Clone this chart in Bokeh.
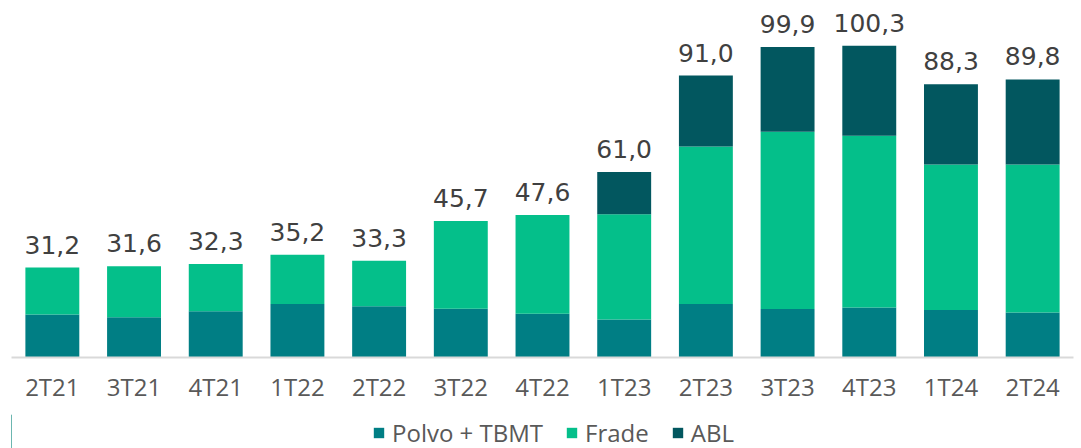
from bokeh.plotting import figure
from bokeh.layouts import column
from bokeh.models import ColumnDataSource, Range1d, FactorRange, Legend, LegendItem
from bokeh.core.properties import value
from bokeh.embed import file_html
from bokeh.resources import INLINE

categories = ["2T21", "3T21", "4T21", "1T22", "2T22", "3T22", "4T22",
              "1T23", "2T23", "3T23", "4T23", "1T24", "2T24"]
polvo_tbmt = [16.6, 15.7, 17.6, 19.9, 19.2, 18.4, 16.8, 15.0, 19.9, 18.3, 18.8, 18.0, 17.2]
frade = [14.6, 15.9, 14.7, 15.3, 14.1, 27.3, 30.8, 32.8, 49.0, 55.2, 53.5, 45.3, 46.1]
abl = [0.0, 0.0, 0.0, 0.0, 0.0, 0.0, 0.0, 13.2, 22.1, 26.4, 28.0, 25.0, 26.5]
total_labels = ["31,2", "31,6", "32,3", "35,2", "33,3", "45,7", "47,6",
                "61,0", "91,0", "99,9", "100,3", "88,3", "89,8"]

series_names = ["Polvo + TBMT", "Frade", "ABL"]
colors = ["#007E84", "#04BF8A", "#02575F"]

totals = [a + b + c for a, b, c in zip(polvo_tbmt, frade, abl)]
src = ColumnDataSource(dict(cat=categories, polvo=polvo_tbmt, frade=frade, abl=abl,
                            total=totals, lbl=total_labels))

FONT = "Open Sans"

p = figure(x_range=FactorRange(*categories), y_range=Range1d(3.2, 111.9),
           width=1081, height=414, output_backend="svg", toolbar_location=None,
           min_border_left=11, min_border_right=8, min_border_top=8, min_border_bottom=57)

rs = p.vbar_stack(["polvo", "frade", "abl"], x="cat", width=0.66, color=colors,
                  line_color=None, source=src)

p.text(x="cat", y="total", text="lbl", source=src, text_align="center",
       text_baseline="bottom", y_offset=-14, text_font=value("DejaVu Sans"),
       text_font_size="25px", text_color="#404040")

p.xgrid.visible = False
p.ygrid.visible = False
p.yaxis.visible = False
p.outline_line_color = None

ax = p.xaxis[0]
ax.axis_line_color = "#d9d9d9"
ax.axis_line_width = 2
ax.major_tick_line_color = None
ax.minor_tick_line_color = None
ax.major_label_text_font = FONT
ax.major_label_text_font_size = "24px"
ax.major_label_text_color = "#595959"
ax.major_label_standoff = 6

# legend strip below the chart (proxy glyphs kept outside the visible range)
pl = figure(width=1081, height=34, output_backend="svg", toolbar_location=None,
            x_range=Range1d(0, 1), y_range=Range1d(0, 1),
            x_axis_location=None, y_axis_location=None,
            min_border_left=0, min_border_right=0, min_border_top=0, min_border_bottom=0)
pl.outline_line_color = None
pl.xgrid.visible = False
pl.ygrid.visible = False
proxy = ColumnDataSource(dict(x=[-5], top=[1]))
leg_rs = [pl.vbar(x="x", top="top", width=0.1, color=c, line_color=None, source=proxy)
          for c in colors]

legend = Legend(items=[LegendItem(label=n, renderers=[r]) for n, r in zip(series_names, leg_rs)],
                orientation="horizontal", location=(361, -1))
legend.label_text_font = FONT
legend.label_text_font_size = "24px"
legend.label_text_color = "#595959"
legend.glyph_width = 13
legend.glyph_height = 13
legend.spacing = 22
legend.label_standoff = 7
legend.border_line_color = None
legend.background_fill_alpha = 0
legend.padding = 0
legend.margin = 0
pl.add_layout(legend, "center")

layout = column(p, pl, spacing=0)
open("out.html", "w").write(file_html(layout, INLINE))
